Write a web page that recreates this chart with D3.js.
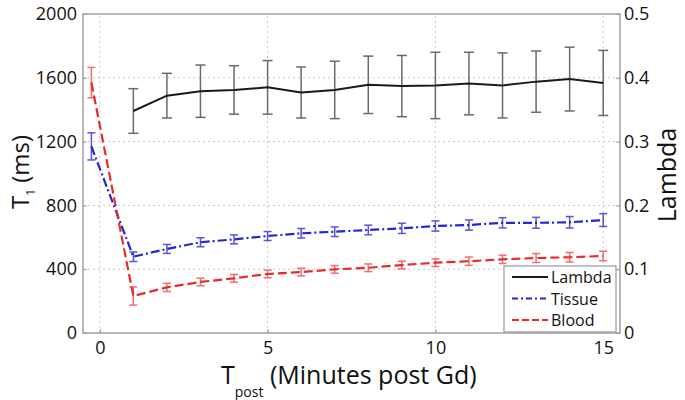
<!DOCTYPE html>
<html>
<head>
<meta charset="utf-8">
<script src="https://cdn.jsdelivr.net/npm/d3@7"></script>
<style>
  body { margin: 0; background: #fff; }
  text { font-family: "Open Sans", "DejaVu Sans", sans-serif; fill: #111; }
</style>
</head>
<body>
<script>
// data
const times = [-0.25, 1, 2, 3, 4, 5, 6, 7, 8, 9, 10, 11, 12, 13, 14, 15];
const lambdaTimes = [1, 2, 3, 4, 5, 6, 7, 8, 9, 10, 11, 12, 13, 14, 15];
const lambdaVals = [0.348, 0.372, 0.379, 0.381, 0.385, 0.377, 0.381, 0.389, 0.387, 0.388, 0.391, 0.388, 0.394, 0.398, 0.392];
const lambdaErr = [0.035, 0.035, 0.041, 0.038, 0.042, 0.040, 0.045, 0.045, 0.048, 0.052, 0.049, 0.051, 0.048, 0.050, 0.051];
const tissueVals = [1170, 478, 527, 569, 587, 608, 625, 635, 646, 656, 671, 677, 691, 691, 694, 708];
const tissueErr = [85, 30, 28, 28, 28, 28, 30, 30, 30, 32, 32, 32, 32, 34, 36, 40];
const bloodVals = [1570, 232, 286, 320, 343, 370, 382, 399, 409, 426, 441, 450, 462, 470, 475, 483];
const bloodErr = [95, 57, 26, 24, 24, 24, 24, 24, 24, 24, 24, 26, 26, 28, 30, 30];
const xTicks = [0, 5, 10, 15];
const yTicks = [0, 400, 800, 1200, 1600, 2000];
const rTicks = [0, 0.1, 0.2, 0.3, 0.4, 0.5];

const W = 685, H = 400;
const m = {left: 83, right: 65, top: 14, bottom: 67};

const svg = d3.select("body").append("svg")
  .attr("width", W).attr("height", H);

const x = d3.scaleLinear().domain([-0.5, 15.5]).range([m.left, W - m.right]);
const y = d3.scaleLinear().domain([0, 2000]).range([H - m.bottom, m.top]);
const yR = d3.scaleLinear().domain([0, 0.5]).range([H - m.bottom, m.top]);

// grid
const grid = svg.append("g").attr("stroke", "#c8c8c8").attr("stroke-dasharray", "2,3").attr("stroke-width", 1);
grid.selectAll(".gx").data(xTicks).enter().append("line")
  .attr("x1", d => x(d)).attr("x2", d => x(d))
  .attr("y1", y(0)).attr("y2", y(2000));
grid.selectAll(".gy").data(yTicks.slice(1, -1)).enter().append("line")
  .attr("x1", x(-0.5)).attr("x2", x(15.5))
  .attr("y1", d => y(d)).attr("y2", d => y(d));

// axes
const ax = svg.append("g").attr("transform", `translate(0,${H - m.bottom})`)
  .call(d3.axisBottom(x).tickValues(xTicks).tickSize(-4).tickPadding(8));
const ay = svg.append("g").attr("transform", `translate(${m.left},0)`)
  .call(d3.axisLeft(y).tickValues(yTicks).tickSize(-4).tickPadding(6).tickFormat(d3.format("d")));
const ar = svg.append("g").attr("transform", `translate(${W - m.right},0)`)
  .call(d3.axisRight(yR).tickValues(rTicks).tickSize(-4).tickPadding(4).tickFormat(d => d === 0 ? "0" : d3.format(".1f")(d)));
[ax, ay, ar].forEach(g => {
  g.select(".domain").remove();
  g.selectAll(".tick line").attr("stroke", "#999");
  g.selectAll(".tick text").style("font-size", "18px").attr("fill", "#222");
});
svg.append("rect").attr("x", x(-0.5)).attr("y", y(2000))
  .attr("width", x(15.5) - x(-0.5)).attr("height", y(0) - y(2000))
  .attr("fill", "none").attr("stroke", "#a0a0a0").attr("stroke-width", 1.5);

// error bar helper
function errBars(xs, vals, errs, scale, color, cap) {
  const g = svg.append("g").attr("stroke", color).attr("stroke-width", 1.5);
  xs.forEach((t, i) => {
    const lo = scale(vals[i] - errs[i]), hi = scale(vals[i] + errs[i]);
    g.append("line").attr("x1", x(t)).attr("x2", x(t)).attr("y1", lo).attr("y2", hi);
    g.append("line").attr("x1", x(t) - cap).attr("x2", x(t) + cap).attr("y1", lo).attr("y2", lo);
    g.append("line").attr("x1", x(t) - cap).attr("x2", x(t) + cap).attr("y1", hi).attr("y2", hi);
  });
}

errBars(lambdaTimes, lambdaVals, lambdaErr, yR, "#6a6a6a", 5);
errBars(times, tissueVals, tissueErr, y, "#5555dd", 4);
errBars(times, bloodVals, bloodErr, y, "#ee6f6f", 4);

const lineL = d3.line().x((d, i) => x(lambdaTimes[i])).y(d => yR(d));
const lineT = d3.line().x((d, i) => x(times[i])).y(d => y(d));

svg.append("path").datum(lambdaVals).attr("d", lineL)
  .attr("fill", "none").attr("stroke", "#1a1a1a").attr("stroke-width", 2);
svg.append("path").datum(tissueVals).attr("d", lineT)
  .attr("fill", "none").attr("stroke", "#2424d8").attr("stroke-width", 2.2)
  .attr("stroke-dasharray", "9,3,2,3");
svg.append("path").datum(bloodVals).attr("d", lineT)
  .attr("fill", "none").attr("stroke", "#e82a2a").attr("stroke-width", 2.2)
  .attr("stroke-dasharray", "9,4");

// legend
const leg = svg.append("g");
leg.append("rect").attr("x", 504).attr("y", 266).attr("width", 112).attr("height", 66)
  .attr("fill", "#fff").attr("stroke", "#999").attr("stroke-width", 1.2);
const legItems = [
  {name: "Lambda", color: "#1a1a1a", dash: null},
  {name: "Tissue", color: "#2424d8", dash: "6,3,2,3"},
  {name: "Blood", color: "#e82a2a", dash: "7,3"}
];
legItems.forEach((d, i) => {
  const yy = 277 + i * 21.5;
  leg.append("line").attr("x1", 512).attr("x2", 548).attr("y1", yy).attr("y2", yy)
    .attr("stroke", d.color).attr("stroke-width", 2).attr("stroke-dasharray", d.dash);
  leg.append("text").attr("x", 551).attr("y", yy + 6).text(d.name).style("font-size", "16px");
});

// axis titles
const tY = svg.append("text").attr("transform", "translate(29,172) rotate(-90)")
  .attr("text-anchor", "middle").style("font-size", "24px");
tY.append("tspan").text("T");
tY.append("tspan").text("1").style("font-size", "12px").attr("dy", 6);
tY.append("tspan").text(" (ms)").attr("dy", -6);

svg.append("text").attr("transform", "translate(676,175) rotate(-90)")
  .attr("text-anchor", "middle").style("font-size", "25px").text("Lambda");

const tX = svg.append("text").attr("x", 221).attr("y", 384).style("font-size", "25px");
tX.append("tspan").text("T");
tX.append("tspan").text("post").style("font-size", "14px").attr("dy", 13);
tX.append("tspan").text(" (Minutes post Gd)").attr("dy", -13);
</script>
</body>
</html>
